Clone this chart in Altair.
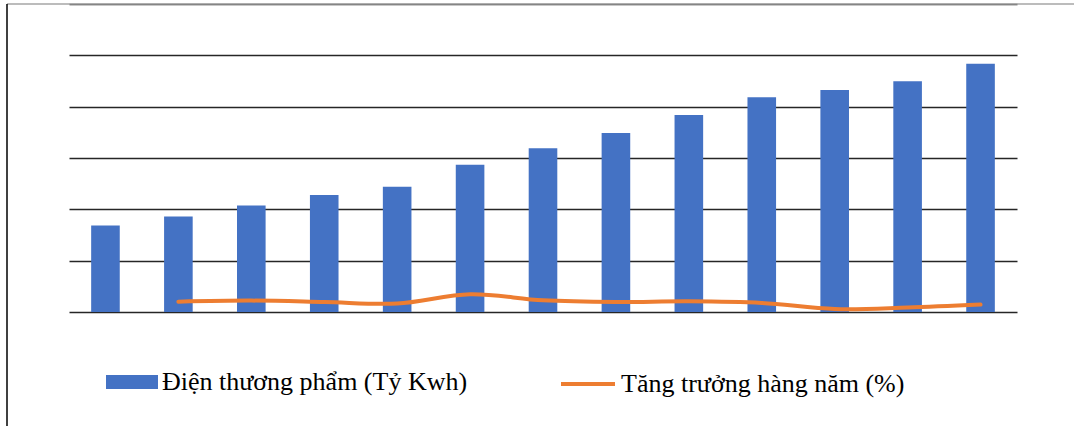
import altair as alt
import pandas as pd

# Commercial electricity (billion kWh) and annual growth (%), 2010-2022
years = [str(y) for y in range(2010, 2023)]
energy = [84.3, 93.0, 103.8, 113.9, 122.0, 143.4, 159.4, 174.4, 191.9, 209.2, 216.3, 224.8, 241.7]
growth_years = years[1:]
growth = [10.1, 11.1, 9.8, 8.2, 17.2, 11.4, 9.8, 10.4, 8.8, 2.9, 4.3, 7.2]

bar_name = "Điện thương phẩm (Tỷ Kwh)"
line_name = "Tăng trưởng hàng năm (%)"

bars_df = pd.DataFrame({"year": years, "value": energy, "series": bar_name})
line_df = pd.DataFrame({"year": growth_years, "value": growth, "series": line_name})

W, H = 948, 308
PAD_L, PAD_T = 69, 4
FONT = "Liberation Serif"

x_enc = alt.X(
    "year:N",
    axis=None,
    scale=alt.Scale(paddingInner=0.608, paddingOuter=0.304),
)
y_scale = alt.Scale(domain=[0, 300], nice=False)
y_axis = alt.Axis(
    values=[0, 50, 100, 150, 200, 250, 300],
    labels=False,
    ticks=False,
    domain=False,
    grid=True,
    gridColor="#262626",
    gridWidth=1.5,
    title=None,
)

bars = alt.Chart(bars_df).mark_bar(size=28.6).encode(
    x=x_enc,
    y=alt.Y("value:Q", scale=y_scale, axis=y_axis),
    color=alt.Color(
        "series:N",
        scale=alt.Scale(domain=[bar_name], range=["#4472C4"]),
        legend=alt.Legend(
            title=None,
            orient="none",
            legendX=37,
            legendY=352,
            padding=0,
            symbolType="M-1,-0.27H1V0.27H-1Z",
            symbolSize=2704,
            symbolStrokeWidth=0,
            symbolOpacity=1,
            labelFont=FONT,
            labelFontSize=26,
            labelColor="#000000",
            labelOffset=4,
            labelLimit=600,
        ),
    ),
)

line = alt.Chart(line_df).mark_line(
    strokeWidth=4, interpolate="catmull-rom", strokeCap="round"
).encode(
    x=x_enc,
    y=alt.Y("value:Q", scale=y_scale),
    stroke=alt.Stroke(
        "series:N",
        scale=alt.Scale(domain=[line_name], range=["#ED7D31"]),
        legend=alt.Legend(
            title=None,
            orient="none",
            legendX=490,
            legendY=351,
            padding=0,
            symbolType="stroke",
            symbolSize=2916,
            symbolStrokeWidth=4,
            labelFont=FONT,
            labelFontSize=26,
            labelColor="#000000",
            labelOffset=4,
            labelLimit=600,
        ),
    ),
)

# Frame of the chart area: left edge and top edge
frame_df = pd.DataFrame({"k": [0]})
left_edge = alt.Chart(frame_df).mark_rule(color="#000000", strokeWidth=1.5).encode(
    x=alt.value(-62), y=alt.value(0), y2=alt.value(430)
)
top_edge = alt.Chart(frame_df).mark_rule(color="#a6a6a6", strokeWidth=1.5).encode(
    x=alt.value(-62), x2=alt.value(1010), y=alt.value(0)
)

chart = (
    alt.layer(top_edge, left_edge, bars, line)
    .resolve_scale(color="independent")
    .properties(
        width=W,
        height=H,
        padding={"left": PAD_L, "top": PAD_T, "right": 1074 - PAD_L - W, "bottom": 426 - PAD_T - H},
        autosize=alt.AutoSizeParams(type="none"),
        background="#ffffff",
    )
    .configure_view(stroke=None)
)

chart.save("out.html", embed_options={"renderer": "svg", "actions": False})
